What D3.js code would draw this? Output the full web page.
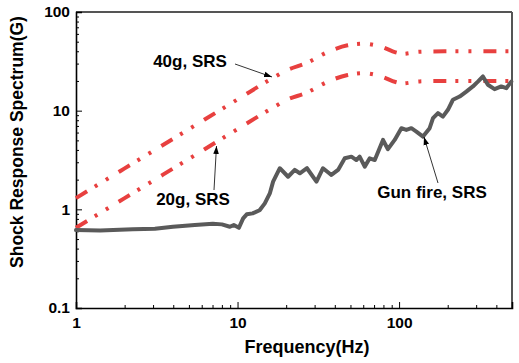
<!DOCTYPE html>
<html>
<head>
<meta charset="utf-8">
<script src="https://cdn.jsdelivr.net/npm/d3@7"></script>
<style>
  body { margin: 0; background: #fff; }
  text { font-family: "Liberation Sans", Arial, sans-serif; font-weight: bold; }
</style>
</head>
<body>
<svg id="chart" width="519" height="363"></svg>
<script>
// SRS reference curves (frequency in Hz, acceleration in G)
var srsFreq = [1, 2, 5, 10, 16.5, 20, 26.7, 37, 48, 60, 79, 95, 105, 134, 200, 500];
var srs40 = [1.3, 2.6, 6.5, 13, 21.4, 25.5, 30.4, 40, 46, 47.7, 44, 39, 37.7, 39.5, 40, 40];
var srs20 = [0.65, 1.3, 3.25, 6.5, 10.7, 12.8, 15.2, 20, 23, 24, 22, 19.5, 18.9, 19.8, 20, 20];

// measured gun fire SRS
var gunFreq = [1, 1.41, 2.25, 3.08, 3.98, 5.44, 7.03, 8.0, 8.96, 9.48, 10.2, 10.83, 11.4, 12.4, 13.7,
  14.75, 15.84, 16.6, 18.27, 20.55, 22.6, 24.3, 26.9, 30.8, 33.8, 38.1, 41.9, 46.1, 50.7, 54.4, 57.0,
  61.3, 65.8, 70.7, 79.5, 85.3, 93.9, 103.3, 110.9, 119.1, 127.9, 140.6, 154.6, 162.2, 174.1, 186.7,
  200.6, 215.4, 237, 260.7, 286.3, 307.5, 330.4, 354.6, 390, 429, 461, 495];
var gunSrs = [0.616, 0.61, 0.627, 0.636, 0.666, 0.693, 0.714, 0.704, 0.666, 0.693, 0.65, 0.81, 0.89, 0.91, 0.98,
  1.15, 1.45, 1.91, 2.61, 2.14, 2.51, 2.32, 2.61, 1.91, 2.61, 2.23, 2.51, 3.29, 3.42, 3.16, 3.42,
  2.71, 3.29, 3.16, 5.05, 4.07, 5.05, 6.64, 6.38, 6.64, 6.14, 5.46, 6.64, 8.39, 9.43, 8.71,
  10.2, 12.9, 13.9, 15.6, 17.6, 19.7, 22.2, 18.3, 16.5, 17.6, 16.9, 19.7];

var xTicks = [1, 10, 100];
var yTicks = [0.1, 1, 10, 100];

var svg = d3.select("#chart");
var plotL = 76, plotR = 512, plotT = 12, plotB = 308;

var x = d3.scaleLog().domain([1, 500]).range([plotL, plotR]);
var y = d3.scaleLog().domain([0.1, 100]).range([plotB, plotT]);

// minor tick values
var xMinor = [], yMinor = [];
[1, 10, 100].forEach(function(d) {
  for (var k = 2; k <= 9; k++) if (d * k < 500) xMinor.push(d * k);
});
[0.1, 1, 10].forEach(function(d) {
  for (var k = 2; k <= 9; k++) yMinor.push(d * k);
});

// frame: top and right
svg.append("line").attr("x1", plotL).attr("x2", plotR).attr("y1", plotT).attr("y2", plotT)
  .style("stroke", "#555").style("stroke-width", 2);
svg.append("line").attr("x1", plotR).attr("x2", plotR).attr("y1", plotT).attr("y2", plotB)
  .style("stroke", "#555").style("stroke-width", 2);

// bottom axis, ticks pointing in
svg.append("g").attr("transform", "translate(0," + plotB + ")")
  .call(d3.axisBottom(x).tickValues(xTicks).tickSize(-6).tickPadding(9).tickFormat(d3.format("d")));
svg.append("g").attr("transform", "translate(0," + plotB + ")")
  .call(d3.axisBottom(x).tickValues(xMinor).tickSize(-3).tickFormat(""))
  .select(".domain").remove();

svg.append("g").attr("transform", "translate(" + plotL + ",0)")
  .call(d3.axisLeft(y).tickValues(yTicks).tickSize(-6).tickPadding(6)
    .tickFormat(function(d) { return d < 1 ? "0.1" : d3.format("d")(d); }));
svg.append("g").attr("transform", "translate(" + plotL + ",0)")
  .call(d3.axisLeft(y).tickValues(yMinor).tickSize(-3).tickFormat(""))
  .select(".domain").remove();

svg.selectAll(".domain").style("stroke", "#000").style("stroke-width", 1.6);
svg.selectAll(".tick line").style("stroke", "#000").style("stroke-width", 1);
svg.selectAll(".tick text").style("font-size", "15.5px").style("font-weight", "bold")
  .style("font-family", "'Liberation Sans', Arial, sans-serif").style("fill", "#000");

var line = function(fs, vs, curve) {
  return d3.line()
    .x(function(d, i) { return x(fs[i]); })
    .y(function(d) { return y(d); })
    .curve(curve)(vs);
};

// SRS limit curves
[srs40, srs20].forEach(function(vals) {
  svg.append("path")
    .attr("d", line(srsFreq, vals, d3.curveMonotoneX))
    .style("fill", "none")
    .style("stroke", "#e8403f")
    .style("stroke-width", 4)
    .style("stroke-dasharray", "13,9,3,10,3,12");
});

// gun fire curve
svg.append("path")
  .attr("d", line(gunFreq, gunSrs, d3.curveLinear))
  .style("fill", "none")
  .style("stroke", "#5a5a5a")
  .style("stroke-width", 4)
  .style("stroke-linejoin", "round")
  .style("stroke-linecap", "round");

// annotations
svg.append("defs").append("marker")
  .attr("id", "arr").attr("viewBox", "0 0 10 10").attr("refX", 10).attr("refY", 5)
  .attr("markerWidth", 8).attr("markerHeight", 8).attr("orient", "auto")
  .attr("markerUnits", "userSpaceOnUse")
  .append("path").attr("d", "M0,1.5L10,5L0,8.5Z").style("fill", "#000");

var notes = [
  { text: "40g, SRS", tx: 190, ty: 67, x1: 235, y1: 64, x2: 272, y2: 77 },
  { text: "20g, SRS", tx: 193, ty: 205, x1: 214, y1: 190, x2: 216.5, y2: 146 },
  { text: "Gun fire, SRS", tx: 432, ty: 198, x1: 438, y1: 183, x2: 424, y2: 137 }
];
notes.forEach(function(n) {
  svg.append("text").attr("x", n.tx).attr("y", n.ty).attr("text-anchor", "middle")
    .style("font-size", "17px").text(n.text);
  svg.append("line").attr("x1", n.x1).attr("y1", n.y1).attr("x2", n.x2).attr("y2", n.y2)
    .style("stroke", "#000").style("stroke-width", 0.8).attr("marker-end", "url(#arr)");
});

// axis titles
svg.append("text").attr("x", 307).attr("y", 353).attr("text-anchor", "middle")
  .style("font-size", "18px").text("Frequency(Hz)");
svg.append("text").attr("transform", "translate(23,142) rotate(-90)").attr("text-anchor", "middle")
  .style("font-size", "17.5px").text("Shock Response Spectrum(G)");
</script>
</body>
</html>
